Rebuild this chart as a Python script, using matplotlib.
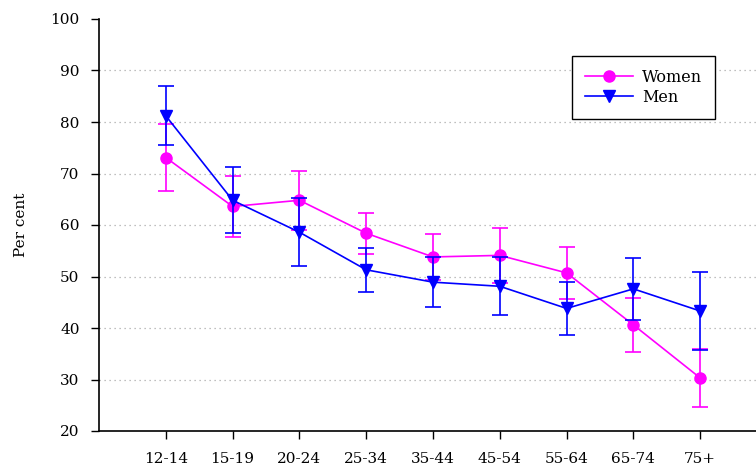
import matplotlib
matplotlib.use("Agg")
import matplotlib.pyplot as plt
import numpy as np

age_groups = ["12-14", "15-19", "20-24", "25-34", "35-44", "45-54", "55-64", "65-74", "75+"]
women = [73.1, 63.6, 64.8, 58.4, 53.8, 54.1, 50.7, 40.6, 30.3]
women_err = [6.5, 6.0, 5.7, 4.0, 4.5, 5.3, 5.1, 5.2, 5.6]
men = [81.2, 64.8, 58.6, 51.3, 48.9, 48.1, 43.8, 47.6, 43.3]
men_err = [5.7, 6.4, 6.6, 4.3, 4.9, 5.6, 5.2, 6.0, 7.5]
y_ticks = [20, 30, 40, 50, 60, 70, 80, 90, 100]

plt.rcParams["font.family"] = ["DejaVu Serif"]
plt.rcParams["font.size"] = 11

fig = plt.figure(figsize=(7.56, 4.71), dpi=100)
W, H = 756, 471
# Axes run past the right edge of the figure
ax = fig.add_axes([99 / W, (H - 431) / H, 668 / W, 412 / H])

x = np.arange(1, len(age_groups) + 1)

w_eb = ax.errorbar(x, women, yerr=women_err, color="#FF00FF", marker="o", markersize=8,
                   linewidth=1.2, elinewidth=1.2, capsize=6, capthick=1.2, zorder=3)
m_eb = ax.errorbar(x, men, yerr=men_err, color="#0000FF", marker="v", markersize=9,
                   linewidth=1.2, elinewidth=1.2, capsize=6, capthick=1.2, zorder=4)

ax.set_xlim(0, 10)
ax.set_ylim(20, 100)
ax.set_xticks(x)
ax.set_xticklabels(age_groups)
ax.set_yticks(y_ticks)
ax.tick_params(axis="both", direction="out", length=6, width=1, colors="black", labelsize=11)
ax.tick_params(axis="x", pad=9)
ax.tick_params(axis="y", pad=8)

for v in y_ticks[1:-1]:
    ax.axhline(v, color="#aaaaaa", linestyle=(0, (1, 3)), linewidth=0.9, zorder=0)

ax.spines["top"].set_visible(False)
ax.spines["right"].set_visible(False)
ax.spines["left"].set_linewidth(1.2)
ax.spines["bottom"].set_linewidth(1.2)

ax.set_ylabel("Per cent", fontsize=11, labelpad=16)

leg = ax.legend([w_eb[0], m_eb[0]], ["Women", "Men"],
                loc="upper left", bbox_to_anchor=((572 - 99) / 668, (431 - 56) / 412),
                frameon=True, fancybox=False, edgecolor="black", framealpha=1,
                borderpad=0.8, handlelength=3.0, handletextpad=0.6, labelspacing=0.2,
                borderaxespad=0, fontsize=11.5)
leg.get_frame().set_linewidth(1.0)

fig.savefig("out.png", dpi=100)
